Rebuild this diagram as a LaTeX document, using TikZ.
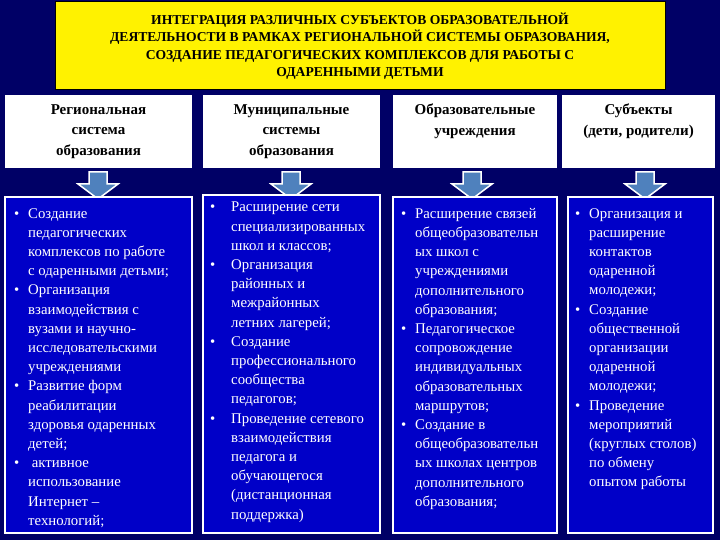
\documentclass[tikz,border=0pt]{standalone}
\usepackage{fontspec}
\setmainfont{Liberation Serif}
\definecolor{bgnavy}{HTML}{000066}
\definecolor{boxblue}{HTML}{0000C8}
\definecolor{titley}{HTML}{FFF200}
\definecolor{arrfill}{HTML}{4F81BD}
\newcommand{\bl}{\makebox[14pt][l]{•}}
\newcommand{\cl}{\hspace*{14pt}}
\tikzset{
 hdr/.style={draw=none,fill=white,inner sep=0pt},
 htxt/.style={align=center,anchor=north,inner sep=0pt,font=\fontsize{15}{20.5}\selectfont\bfseries},
 body/.style={draw=white,line width=1.5pt,fill=boxblue},
 btxt/.style={text=white,align=left,anchor=north west,inner sep=0pt,font=\fontsize{14.8}{19.2}\selectfont},
 darr/.style={fill=arrfill,draw=white,line width=1.5pt}
}
\begin{document}
\begin{tikzpicture}[x=1pt,y=-1pt]
\fill[bgnavy] (0,0) rectangle (720,540);
\useasboundingbox (0,0) rectangle (720,540);
\node[draw=black,line width=1pt,fill=titley,minimum width=610pt,minimum height=88pt,align=center,font=\fontsize{13.6}{17.5}\selectfont\bfseries] (title) at (360,46) {ИНТЕГРАЦИЯ РАЗЛИЧНЫХ СУБЪЕКТОВ ОБРАЗОВАТЕЛЬНОЙ\\ДЕЯТЕЛЬНОСТИ В РАМКАХ РЕГИОНАЛЬНОЙ СИСТЕМЫ ОБРАЗОВАНИЯ,\\СОЗДАНИЕ ПЕДАГОГИЧЕСКИХ КОМПЛЕКСОВ ДЛЯ РАБОТЫ С\\ОДАРЕННЫМИ ДЕТЬМИ};
% headers
\node[hdr,minimum width=187pt,minimum height=73pt] (h1) at (98.5,132) {};
\node[hdr,minimum width=177pt,minimum height=73pt] (h2) at (291.5,132) {};
\node[hdr,minimum width=164pt,minimum height=73pt] (h3) at (475,132) {};
\node[hdr,minimum width=153pt,minimum height=73pt] (h4) at (638.5,132) {};
\node[htxt] (ht1) at (98.5,104) {Региональная\\система\\образования};
\node[htxt] (ht2) at (291.5,104) {Муниципальные\\системы\\образования};
\node[htxt] (ht3) at (475,104) {Образовательные\\учреждения};
\node[htxt] (ht4) at (638.5,104) {Субъекты\\(дети, родители)};
% arrows
\foreach \cx in {98,291,472,645}{
 \draw[darr] (\cx-9,172) -- (\cx+9,172) -- (\cx+9,184) -- (\cx+20,184) -- (\cx,199) -- (\cx-20,184) -- (\cx-9,184) -- cycle;
}
% body boxes
\node[body,minimum width=187pt,minimum height=336pt] (b1) at (98.5,365) {};
\node[body,minimum width=177pt,minimum height=338pt] (b2) at (291.5,364) {};
\node[body,minimum width=164pt,minimum height=336pt] (b3) at (475,365) {};
\node[body,minimum width=145pt,minimum height=336pt] (b4) at (640.5,365) {};
% texts
\node[btxt] (t1) at (14,208) {\bl Создание\\\cl педагогических\\\cl комплексов по работе\\\cl с одаренными детьми;\\\bl Организация\\\cl взаимодействия с\\\cl вузами и научно-\\\cl исследовательскими\\\cl учреждениями\\\bl Развитие форм\\\cl реабилитации\\\cl здоровья одаренных\\\cl детей;\\\bl\ активное\\\cl использование\\\cl Интернет –\\\cl технологий;};
\node[btxt] (t2) at (210,202) {\makebox[21pt][l]{•}Расширение сети\\\hspace*{21pt}специализированных\\\hspace*{21pt}школ и классов;\\\makebox[21pt][l]{•}Организация\\\hspace*{21pt}районных и\\\hspace*{21pt}межрайонных\\\hspace*{21pt}летних лагерей;\\\makebox[21pt][l]{•}Создание\\\hspace*{21pt}профессионального\\\hspace*{21pt}сообщества\\\hspace*{21pt}педагогов;\\\makebox[21pt][l]{•}Проведение сетевого\\\hspace*{21pt}взаимодействия\\\hspace*{21pt}педагога и\\\hspace*{21pt}обучающегося\\\hspace*{21pt}(дистанционная\\\hspace*{21pt}поддержка)};
\node[btxt] (t3) at (401,208) {\bl Расширение связей\\\cl общеобразовательн\\\cl ых школ с\\\cl учреждениями\\\cl дополнительного\\\cl образования;\\\bl Педагогическое\\\cl сопровождение\\\cl индивидуальных\\\cl образовательных\\\cl маршрутов;\\\bl Создание в\\\cl общеобразовательн\\\cl ых школах центров\\\cl дополнительного\\\cl образования;};
\node[btxt] (t4) at (575,208) {\bl Организация и\\\cl расширение\\\cl контактов\\\cl одаренной\\\cl молодежи;\\\bl Создание\\\cl общественной\\\cl организации\\\cl одаренной\\\cl молодежи;\\\bl Проведение\\\cl мероприятий\\\cl (круглых столов)\\\cl по обмену\\\cl опытом работы};
\end{tikzpicture}
\end{document}
